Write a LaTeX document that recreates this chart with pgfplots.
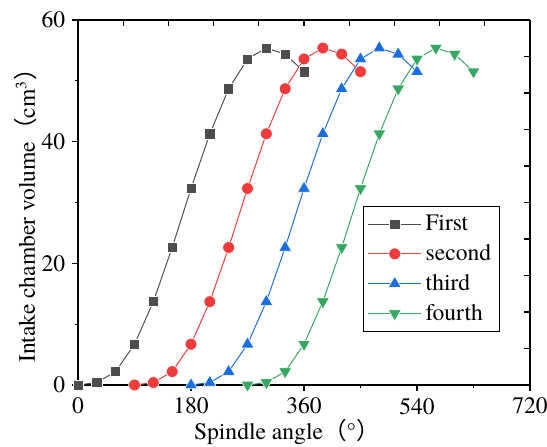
\documentclass[border=0pt]{standalone}
\usepackage{pgfplots}
\pgfplotsset{compat=1.18}
\usepackage{fontspec}
\setmainfont{texgyretermes-regular.otf}
\newfontfamily\tnr{texgyretermes-regular.otf}
\newfontfamily\cjk{Noto Sans CJK SC}

\definecolor{cfirst}{RGB}{77,77,77}
\definecolor{csecond}{RGB}{239,59,59}
\definecolor{cthird}{RGB}{26,111,223}
\definecolor{cfourth}{RGB}{54,168,98}

% volume vs spindle angle, one table per chamber
\pgfplotstableread{
x y
0 0
30 0.4
60 2.2
90 6.7
120 13.7
150 22.6
180 32.3
210 41.3
240 48.7
270 53.6
300 55.4
330 54.4
360 51.5
}\first
\pgfplotstableread{
x y
90 0
120 0.4
150 2.2
180 6.7
210 13.7
240 22.6
270 32.3
300 41.3
330 48.7
360 53.6
390 55.4
420 54.4
450 51.5
}\second
\pgfplotstableread{
x y
180 0
210 0.4
240 2.2
270 6.7
300 13.7
330 22.6
360 32.3
390 41.3
420 48.7
450 53.6
480 55.4
510 54.4
540 51.5
}\third
\pgfplotstableread{
x y
270 0
300 0.4
330 2.2
360 6.7
390 13.7
420 22.6
450 32.3
480 41.3
510 48.7
540 53.6
570 55.4
600 54.4
630 51.5
}\fourth

\begin{document}
\begin{tikzpicture}[font=\tnr]
\pgfplotsset{
  every axis/.append style={
    scale only axis, width=230pt, height=185.7pt,
    xmin=0, xmax=720, ymin=0, ymax=60,
    axis line style={line width=0.8pt},
    tick style={black, line width=0.6pt},
    major tick length=3pt, minor tick length=1.7pt,
  }
}
\begin{axis}[
    name=main,
    axis x line*=bottom, axis y line*=left,
    tick align=outside,
    clip=false,
    xtick={0,180,...,720}, minor xtick={90,270,450,630},
    ytick={0,20,40,60}, minor ytick={10,30,50},
    /pgf/number format/assume math mode=true,
    tick label style={font=\tnr\fontsize{12}{14}\selectfont},
    label style={font=\tnr\fontsize{12}{14}\selectfont},
    xlabel={Spindle angle{\cjk （}°{\cjk ）}},
    ylabel={Intake chamber volume{\cjk （}cm\textsuperscript{3}{\cjk ）}},
    xlabel style={at={(axis description cs:0.462,-0.128)}, anchor=center},
    ylabel style={at={(axis description cs:-0.115,0.48)}, anchor=center},
    legend style={at={(0.63,0.49)}, anchor=north west, draw=black, line width=0.6pt,
      font=\tnr\fontsize{12}{14.5}\selectfont, row sep=1.5pt, inner sep=2.2pt},
    legend cell align=left,
    legend image code/.code={
      \draw[mark repeat=2, mark phase=2, #1]
        plot coordinates {(0cm,0cm) (0.475cm,0cm) (0.95cm,0cm)};
    },
]
\addplot[cfirst, line width=0.5pt, mark=square*, mark size=2.6pt,
  mark options={fill=cfirst, draw=white, line width=0.3pt}] table {\first};
\addlegendentry{First}
\addplot[csecond, line width=0.5pt, mark=*, mark size=3pt,
  mark options={fill=csecond, draw=white, line width=0.3pt}] table {\second};
\addlegendentry{second}
\addplot[cthird, line width=0.5pt, mark=triangle*, mark size=3.8pt,
  mark options={fill=cthird, draw=white, line width=0.3pt}] table {\third};
\addlegendentry{third}
\addplot[cfourth, line width=0.5pt, mark=triangle*, mark size=3.8pt,
  mark options={fill=cfourth, draw=white, line width=0.3pt, rotate=180}] table {\fourth};
\addlegendentry{fourth}
\end{axis}

% top and right frame with their own finer ticks
\begin{axis}[
    axis x line*=top, axis y line*=right,
    tick align=inside,
    xtick={0,72,...,720}, ytick={0,6,...,60},
    xticklabels={}, yticklabels={},
]
\end{axis}

% page margins taken from the reference layout
\pgfresetboundingbox
\useasboundingbox ([xshift=-39.7pt,yshift=-31.55pt]main.south west)
  rectangle ([xshift=8.65pt,yshift=10.2pt]main.north east);
\end{tikzpicture}
\end{document}
